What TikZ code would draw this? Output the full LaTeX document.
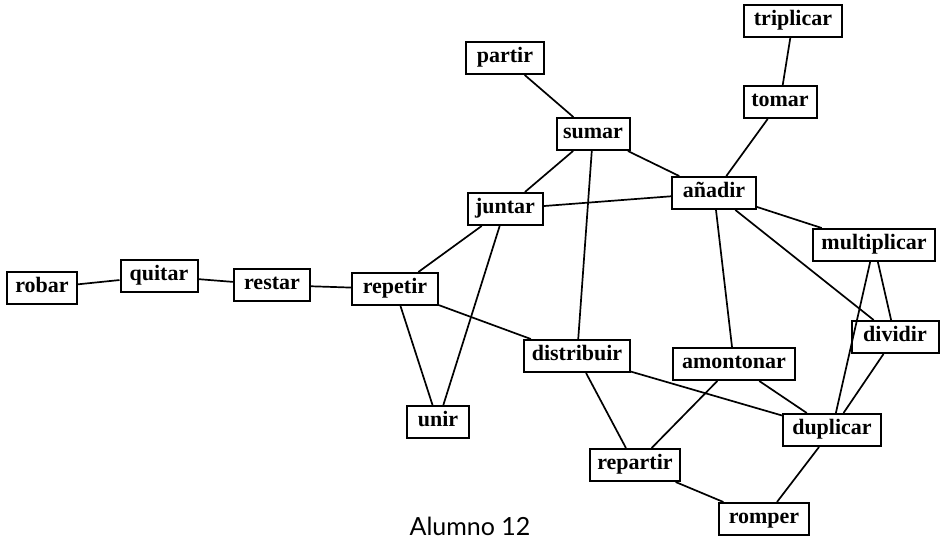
\documentclass[tikz,border=0pt]{standalone}
\usepackage{fontspec}
\setmainfont{Liberation Serif}
\newfontfamily\capfont{Lato}
\begin{document}
\begin{tikzpicture}[x=1pt,y=-1pt,
  wbox/.style={draw, rectangle, line width=2pt, inner sep=0pt,
    minimum height=32pt, minimum width=#1, text height=13.5pt, text depth=4.5pt,
    font=\fontsize{22}{26}\selectfont\bfseries},
  link/.style={line width=1.7pt}]
\useasboundingbox (0,0) rectangle (944,540);
\node[wbox=70pt]  (robar)   at (42,288)  {robar};
\node[wbox=77pt]  (quitar)  at (159,276) {quitar};
\node[wbox=76pt]  (restar)  at (272,285) {restar};
\node[wbox=86pt]  (repetir) at (395,289) {repetir};
\node[wbox=78pt]  (partir)  at (505,58)  {partir};
\node[wbox=73pt]  (sumar)   at (593,134) {sumar};
\node[wbox=75pt]  (juntar)  at (505,209) {juntar};
\node[wbox=84pt]  (anadir)  at (714,193) {añadir};
\node[wbox=98pt]  (triplicar) at (793,21) {triplicar};
\node[wbox=73pt]  (tomar)   at (780,102) {tomar};
\node[wbox=122pt] (multiplicar) at (874,245) {multiplicar};
\node[wbox=87pt]  (dividir) at (895,337) {dividir};
\node[wbox=106pt] (distribuir) at (577,356) {distribuir};
\node[wbox=122pt] (amontonar) at (734,364) {amontonar};
\node[wbox=62pt]  (unir)    at (438,422) {unir};
\node[wbox=98pt]  (duplicar) at (832,430) {duplicar};
\node[wbox=90pt]  (repartir) at (635,465) {repartir};
\node[wbox=90pt]  (romper)  at (764,519) {romper};
\node[font=\capfont\fontsize{25}{29}\selectfont, anchor=base] (caption) at (470,535) {Alumno 12};

\draw[link] (robar) -- (quitar);
\draw[link] (quitar) -- (restar);
\draw[link] (restar) -- (repetir);
\draw[link] (repetir) -- (juntar);
\draw[link] (repetir) -- (unir);
\draw[link] (repetir) -- (distribuir);
\draw[link] (juntar) -- (unir);
\draw[link] (juntar) -- (sumar);
\draw[link] (juntar) -- (anadir);
\draw[link] (partir) -- (sumar);
\draw[link] (sumar) -- (anadir);
\draw[link] (sumar) -- (distribuir);
\draw[link] (tomar) -- (triplicar);
\draw[link] (tomar) -- (anadir);
\draw[link] (anadir) -- (multiplicar);
\draw[link] (anadir) -- (dividir);
\draw[link] (anadir) -- (amontonar);
\draw[link] (multiplicar) -- (dividir);
\draw[link] (multiplicar) -- (duplicar);
\draw[link] (dividir) -- (duplicar);
\draw[link] (distribuir) -- (duplicar);
\draw[link] (distribuir) -- (repartir);
\draw[link] (amontonar) -- (duplicar);
\draw[link] (amontonar) -- (repartir);
\draw[link] (repartir) -- (romper);
\draw[link] (duplicar) -- (romper);
\end{tikzpicture}
\end{document}
